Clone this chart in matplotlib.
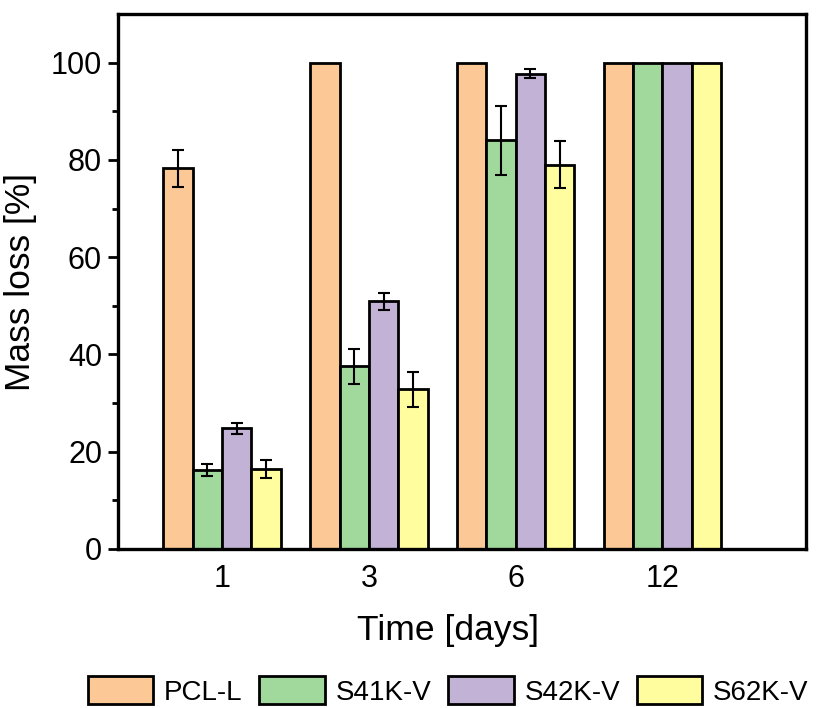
import matplotlib
matplotlib.use("Agg")
import matplotlib.pyplot as plt
import numpy as np

plt.rcParams['font.family'] = ['Liberation Sans', 'DejaVu Sans']

days = ["1", "3", "6", "12"]
series = ["PCL-L", "S41K-V", "S42K-V", "S62K-V"]
pcl_l = [78.3, 100, 100, 100]
pcl_l_err = [3.8, 0, 0, 0]
s41k_v = [16.3, 37.6, 84.0, 100]
s41k_v_err = [1.2, 3.6, 7.1, 0]
s42k_v = [24.8, 50.9, 97.7, 100]
s42k_v_err = [1.1, 1.7, 0.9, 0]
s62k_v = [16.4, 32.8, 79.0, 100]
s62k_v_err = [1.9, 3.6, 4.8, 0]
colors = ["#FCC896", "#A1D99D", "#C2B2D6", "#FFFD9E"]

values = [pcl_l, s41k_v, s42k_v, s62k_v]
errors = [pcl_l_err, s41k_v_err, s42k_v_err, s62k_v_err]

fig = plt.figure(figsize=(8.18, 7.08), dpi=100)
ax = fig.add_axes([118/818, 1-549/708, (806-118)/818, (549-14)/708])

x = np.arange(len(days))
w = 0.2
handles = []
for i, (vals, errs, c, name) in enumerate(zip(values, errors, colors, series)):
    pos = x + (i - 1.5) * w
    b = ax.bar(pos, vals, width=w, color=c, edgecolor='black', linewidth=2.0, label=name, zorder=2)
    handles.append(b)
    errs_arr = np.array(errs, dtype=float)
    mask = errs_arr > 0
    ax.errorbar(pos[mask], np.array(vals)[mask], yerr=errs_arr[mask], fmt='none',
                ecolor='black', elinewidth=1.5, capsize=4.5, capthick=1.5, zorder=3)

ax.set_xlim(-0.71, 3.98)
ax.set_ylim(0, 110)
ax.set_xticks(x)
ax.set_xticklabels(days)
ax.set_yticks([0, 20, 40, 60, 80, 100])
ax.set_yticks([10, 30, 50, 70, 90], minor=True)
ax.tick_params(axis='x', length=0, labelsize=22, pad=11)
ax.tick_params(axis='y', which='major', direction='out', length=7.5, width=2, labelsize=22, pad=4)
ax.tick_params(axis='y', which='minor', direction='out', length=4.5, width=2)
for s in ax.spines.values():
    s.set_linewidth(2.4)

ax.set_xlabel("Time [days]", fontsize=25.5, labelpad=14)
ax.xaxis.label.set_x((448 - 118) / 688)
ax.set_ylabel("Mass loss [%]", fontsize=25.5, labelpad=10)

fig.legend(handles=handles, labels=series, loc='center', bbox_to_anchor=(448/818, 1-691/708),
           ncol=4, frameon=False, fontsize=20, handlelength=2.37, handleheight=1.15,
           handletextpad=0.38, columnspacing=0.6, borderpad=0)

fig.savefig("out.png", dpi=100)
